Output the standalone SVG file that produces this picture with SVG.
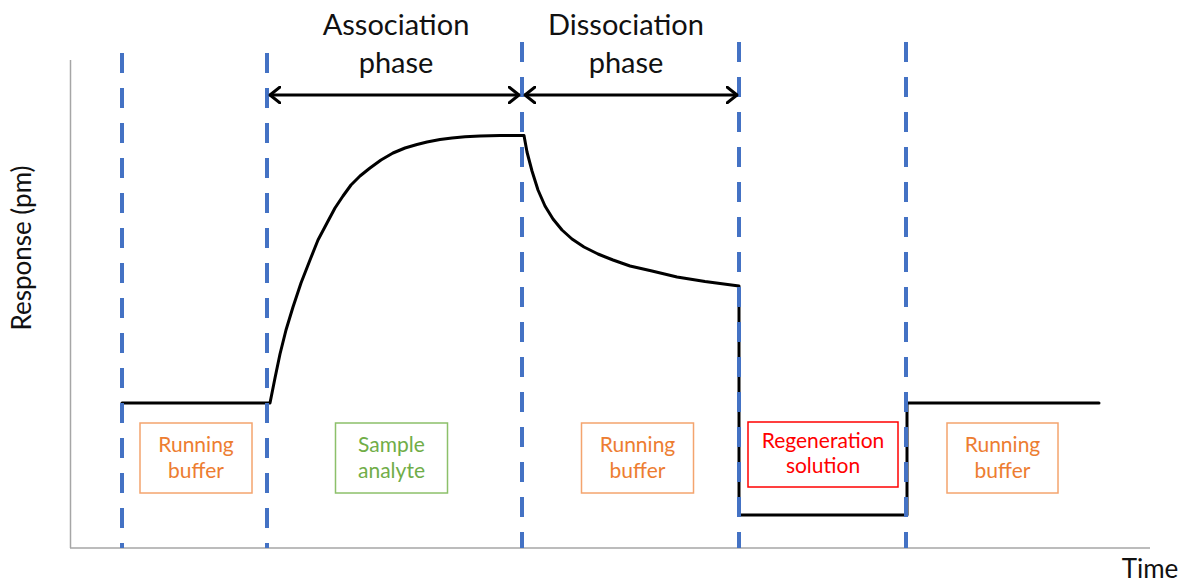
<svg xmlns="http://www.w3.org/2000/svg" width="1192" height="582" viewBox="0 0 1192 582">
<style>
.axis{stroke:#A6A6A6;stroke-width:1.5;fill:none}
.dash{stroke:#4472C4;stroke-width:4;stroke-dasharray:20 15;fill:none}
.curve{stroke:#000;stroke-width:3;fill:none;stroke-linejoin:round;stroke-linecap:round}
.arr{stroke:#000;stroke-width:3;fill:none;stroke-linecap:round;stroke-linejoin:round}
.title{font-family:Lato,"Liberation Sans",sans-serif;font-size:29px;fill:#111;text-anchor:middle}
.lbl{font-family:Lato,"Liberation Sans",sans-serif;font-size:26px;fill:#111}
.box{fill:#fff;stroke-width:1.5}
.bt{font-family:Lato,"Liberation Sans",sans-serif;font-size:21px;text-anchor:middle}
.orange{stroke:#F4A46E}
.orangeT{fill:#ED7D31}
.green{stroke:#8CC06A}
.greenT{fill:#70AD47}
.red{stroke:#FF0000}
.redT{fill:#FF0000}
</style>
<defs>
<marker id="head" viewBox="0 0 12 18" refX="11" refY="9" markerWidth="12" markerHeight="18" markerUnits="userSpaceOnUse" orient="auto-start-reverse">
<path d="M1,1 L11,9 L1,17" fill="none" stroke="#000" stroke-width="3" stroke-linecap="round" stroke-linejoin="round"/>
</marker>
</defs>
<rect width="1192" height="582" fill="#fff"/>
<g id="axes">
<line class="axis" x1="70.5" y1="60" x2="70.5" y2="548"/>
<line class="axis" x1="70" y1="548" x2="1150" y2="548"/>
<text class="lbl" x="1150" y="578" text-anchor="middle">Time</text>
<text class="lbl" transform="translate(31,248) rotate(-90)" text-anchor="middle">Response (pm)</text>
</g>
<g id="curve">
<polyline class="curve" points="122,403 270,403 275,378 280,354 286,330 293,307 301,283 310,260 318,240 327,223 335,208 343,196 351,185 360,176 370,168 381,160 393,153 405,148 417,144.5 427,142 440,139.5 452,138 465,136.8 480,136 500,135.5 522,135.5 524,135.5 527,152 532,171 538,190 545,206 553,219 562,230 572,239 584,247 598,254 613,260 630,266 652,271 677,277 705,281.5 739,286 739,515 907,515 907,403 1099,403"/>
</g>
<g id="phase-lines">
<line class="dash" x1="122" y1="53" x2="122" y2="548"/>
<line class="dash" x1="267" y1="53" x2="267" y2="548"/>
<line class="dash" x1="522" y1="42" x2="522" y2="548"/>
<line class="dash" x1="739" y1="42" x2="739" y2="548"/>
<line class="dash" x1="906" y1="42" x2="906" y2="548"/>
</g>
<g id="connectors">
<line class="arr" x1="270" y1="95" x2="519" y2="95" marker-start="url(#head)" marker-end="url(#head)"/>
<line class="arr" x1="525" y1="95" x2="737" y2="95" marker-start="url(#head)" marker-end="url(#head)"/>
</g>
<g id="association-label">
<text class="title" x="396" y="35">Association</text>
<text class="title" x="396" y="73">phase</text>
</g>
<g id="dissociation-label">
<text class="title" x="626" y="35">Dissociation</text>
<text class="title" x="626" y="73">phase</text>
</g>
<g id="running-buffer-1">
<rect class="box orange" x="140" y="423" width="112" height="70"/>
<text class="bt orangeT" x="196" y="452">Running</text>
<text class="bt orangeT" x="196" y="478">buffer</text>
</g>
<g id="sample-analyte">
<rect class="box green" x="335.5" y="423" width="112" height="70"/>
<text class="bt greenT" x="391.5" y="452">Sample</text>
<text class="bt greenT" x="391.5" y="478">analyte</text>
</g>
<g id="running-buffer-2">
<rect class="box orange" x="581.5" y="423" width="112" height="70"/>
<text class="bt orangeT" x="637.5" y="452">Running</text>
<text class="bt orangeT" x="637.5" y="478">buffer</text>
</g>
<g id="regeneration-solution">
<rect class="box red" x="748" y="422" width="150" height="65"/>
<text class="bt redT" x="823" y="448">Regeneration</text>
<text class="bt redT" x="823" y="473">solution</text>
</g>
<g id="running-buffer-3">
<rect class="box orange" x="947" y="423" width="111" height="70"/>
<text class="bt orangeT" x="1002.5" y="452">Running</text>
<text class="bt orangeT" x="1002.5" y="478">buffer</text>
</g>
</svg>
